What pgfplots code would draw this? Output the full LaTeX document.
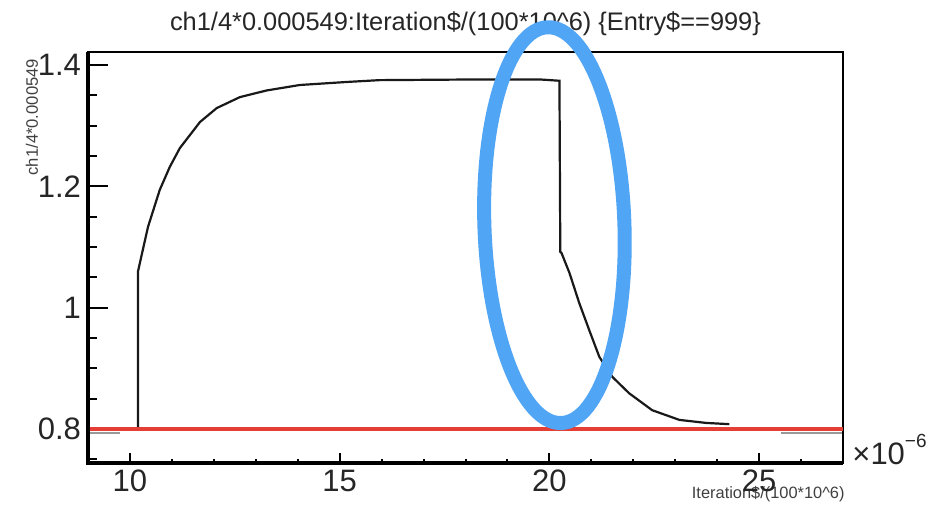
\documentclass[border=0pt]{standalone}
\usepackage{pgfplots}
\pgfplotsset{compat=1.18}
\usepackage{fontspec}
\setmainfont{Liberation Sans}
\definecolor{rootred}{RGB}{229,62,52}
\definecolor{penblue}{RGB}{80,165,245}

\begin{document}
\begin{tikzpicture}
\pgfplotsset{
  common/.style={
    width=377.5pt, height=205.5pt, scale only axis,
    xmin=9, xmax=27, ymin=0.744, ymax=1.4214,
    /pgf/number format/assume math mode=true,
    ticklabel style={font=\fontsize{15.5}{16}\selectfont, black!85},
    tick style={black, line width=1pt},
  }
}
\begin{axis}[common,
  xtick=\empty,
  ytick={0.8,1,1.2,1.4},
  minor ytick={0.75,0.85,0.9,0.95,1.05,1.1,1.15,1.25,1.3,1.35},
  ytick pos=left,
  major tick length=10pt, minor tick length=4.5pt,
  axis line style={line width=1.3pt},
  clip=false,
]
% zero level pieces peeking out below the red line
\addplot[gray!80, line width=1.2pt] coordinates {(9.05,0.793) (9.76,0.793)};
\addplot[gray!80, line width=1.2pt] coordinates {(25.52,0.793) (26.98,0.793)};
% the trace
\addplot[black!90, line width=1.1pt] coordinates {
  (10.19,0.800) (10.19,1.059) (10.29,1.090) (10.43,1.133) (10.71,1.194)
  (10.95,1.232) (11.19,1.263) (11.67,1.306) (12.07,1.329) (12.62,1.347)
  (13.26,1.358) (14.05,1.367) (15.17,1.372) (15.95,1.375) (18.00,1.376)
  (19.80,1.376) (20.24,1.374) (20.26,1.092) (20.29,1.090) (20.48,1.057)
  (20.71,1.008) (20.95,0.963) (21.19,0.919) (21.50,0.886) (21.90,0.859)
  (22.45,0.831) (23.10,0.815) (23.74,0.810) (24.29,0.808)
};
% threshold
\addplot[rootred, line width=2pt] coordinates {(9,0.8) (27,0.8)};

\draw[line width=2pt] (rel axis cs:0,1) -- (rel axis cs:0,0) -- (rel axis cs:1,0);

\node[anchor=base, font=\fontsize{12.7}{14}\selectfont, text=black!85]
  at (rel axis cs:0.5,1) [yshift=10.5pt]
  {ch1/4*0.000549:Iteration\$/(100*10\textasciicircum{}6) \{Entry\$==999\}};
\node[anchor=east, rotate=90, font=\fontsize{8.3}{9}\selectfont, text=black!75]
  at (rel axis cs:0,1) [yshift=28pt] {ch1/4*0.000549};
\node[anchor=base east, font=\fontsize{8.2}{9}\selectfont, text=black!75, inner sep=0pt]
  at (rel axis cs:1,0) [yshift=-18pt, xshift=1pt]
  {Iteration\$/(100*10\textasciicircum{}6)};
\node[anchor=base west, inner sep=0pt, font=\fontsize{15.5}{16}\selectfont, text=black!85]
  at (rel axis cs:1,0) [xshift=4.5pt, yshift=-1pt]
  {×10\raisebox{8.5pt}{\fontsize{9.5}{10}\selectfont −6}};

\coordinate (sw) at (rel axis cs:0,0);
\coordinate (ne) at (rel axis cs:1,1);
\coordinate (ec) at (axis cs:20.12,1.136);
\end{axis}

\begin{axis}[common,
  ytick=\empty,
  xtick={10,15,20,25},
  minor xtick={9,11,12,13,14,16,17,18,19,21,22,23,24,26},
  xtick pos=bottom,
  major tick length=5pt, minor tick length=2.2pt,
  axis line style={draw=none},
]
\end{axis}

% hand-drawn highlight
\draw[penblue, line width=7pt, shift={(ec)}, rotate=2] (0,0) ellipse [x radius=35pt, y radius=99pt];

\path ([xshift=-44pt,yshift=-24pt]sw) rectangle ([xshift=50.5pt,yshift=26pt]ne);
\end{tikzpicture}
\end{document}
